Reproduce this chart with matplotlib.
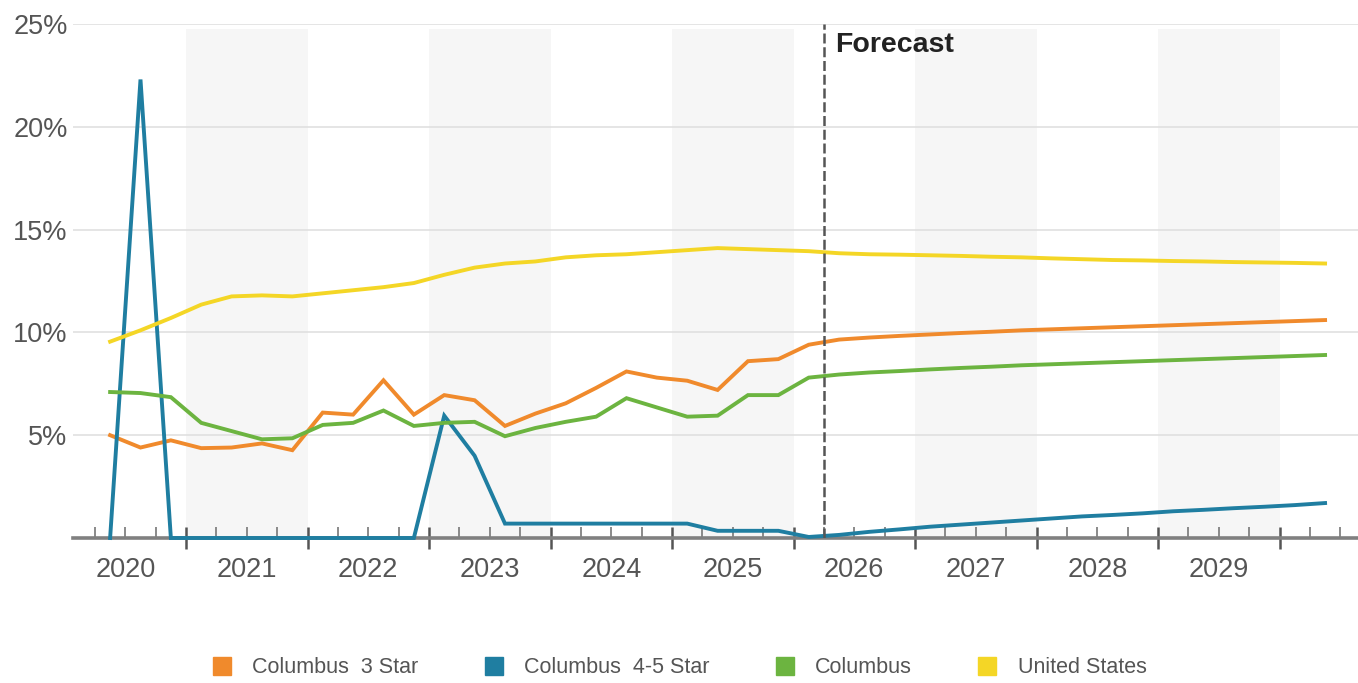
import numpy as np
import matplotlib.pyplot as plt
from matplotlib.lines import Line2D
from matplotlib.transforms import blended_transform_factory

plt.rcParams['font.family'] = ['Liberation Sans', 'DejaVu Sans']

# quarterly points, mid-quarter from 2020 Q2 to 2030 Q2
quarters = np.arange(41) * 0.25 + 2020.375
forecast_start = 2026.25

years = [2020, 2021, 2022, 2023, 2024, 2025, 2026, 2027, 2028, 2029]
shaded_years = [2021, 2023, 2025, 2027, 2029]

col_3star = [5.0, 4.4, 4.75, 4.37, 4.4, 4.6, 4.27, 6.1, 6.0, 7.67,
             6.0, 6.95, 6.7, 5.45, 6.05, 6.55, 7.3, 8.1, 7.8, 7.65,
             7.2, 8.6, 8.7, 9.4, 9.65, 9.75, 9.83, 9.9, 9.97, 10.03,
             10.1, 10.15, 10.2, 10.25, 10.3, 10.35, 10.4, 10.45, 10.5, 10.55,
             10.6]
col_45star = [0.0, 22.3, 0.0, 0.0, 0.0, 0.0, 0.0, 0.0, 0.0, 0.0,
              0.0, 5.95, 4.0, 0.7, 0.7, 0.7, 0.7, 0.7, 0.7, 0.7,
              0.35, 0.35, 0.35, 0.05, 0.15, 0.3, 0.42, 0.55, 0.65, 0.75,
              0.85, 0.95, 1.05, 1.12, 1.2, 1.3, 1.37, 1.45, 1.52, 1.6,
              1.7]
columbus = [7.1, 7.05, 6.85, 5.6, 5.2, 4.8, 4.85, 5.5, 5.6, 6.2,
            5.45, 5.6, 5.65, 4.95, 5.35, 5.65, 5.9, 6.8, 6.35, 5.9,
            5.95, 6.95, 6.95, 7.8, 7.95, 8.05, 8.12, 8.2, 8.27, 8.33,
            8.4, 8.45, 8.5, 8.55, 8.6, 8.65, 8.7, 8.75, 8.8, 8.85,
            8.9]
united_states = [9.55, 10.1, 10.7, 11.35, 11.75, 11.8, 11.75, 11.9, 12.05, 12.2,
                 12.4, 12.8, 13.15, 13.35, 13.45, 13.65, 13.75, 13.8, 13.9, 14.0,
                 14.1, 14.05, 14.0, 13.95, 13.85, 13.8, 13.78, 13.75, 13.72, 13.68,
                 13.65, 13.6, 13.56, 13.52, 13.5, 13.47, 13.45, 13.42, 13.4, 13.38,
                 13.35]

series = [
    ("Columbus  3 Star", col_3star, "#f08a2c"),
    ("Columbus  4-5 Star", col_45star, "#1f7ea1"),
    ("Columbus", columbus, "#6cb440"),
    ("United States", united_states, "#f4d626"),
]

fig = plt.figure(figsize=(13.58, 6.83), dpi=100)
ax = fig.add_axes([0.0538, 0.2123, 0.9462, 0.7526])

ax.set_xlim(2020.07, 2030.646)
ax.set_ylim(0, 25)

for y in shaded_years:
    ax.axvspan(y, y + 1, ymax=0.99, color="#f6f6f6", zorder=0, lw=0)

ax.set_yticks([5, 10, 15, 20, 25])
ax.set_yticklabels(["5%", "10%", "15%", "20%", "25%"])
ax.yaxis.grid(True, color="#e0e0e0", lw=1.2, zorder=1)
ax.tick_params(axis="y", length=0, pad=4, labelsize=19.5, labelcolor="#555555")

for name, vals, color in series:
    ax.plot(quarters, vals, color=color, lw=2.8, zorder=3, clip_on=False,
            solid_joinstyle="miter")

ax.axvline(forecast_start, color="#555555", lw=1.8, ls=(0, (4, 1.5)), zorder=4)
ax.text(forecast_start + 0.09, 24.0, "Forecast", fontsize=20.5, fontweight="bold",
        color="#222222", ha="left", va="center")

for s in ["top", "right", "left"]:
    ax.spines[s].set_visible(False)
ax.spines["bottom"].set_color("#808080")
ax.spines["bottom"].set_linewidth(2.6)

ax.set_xticks(np.arange(2021, 2031))
ax.set_xticks(np.arange(2020.25, 2030.6, 0.25), minor=True)
ax.tick_params(axis="x", which="major", direction="inout", length=16, width=1.8,
               color="#555555", labelbottom=False)
ax.tick_params(axis="x", which="minor", direction="in", length=8, width=1.2,
               color="#777777")

trans = blended_transform_factory(ax.transData, ax.transAxes)
for y in years:
    ax.text(y + 0.5, -0.062, str(y), transform=trans, ha="center", va="center",
            fontsize=19.5, color="#555555")

handles = [Line2D([], [], marker="s", ls="none", markersize=13, color=c)
           for _, _, c in series]
fig.legend(handles, [n for n, _, _ in series], loc="center", bbox_to_anchor=(0.5, 0.022),
           ncol=4, frameon=False, fontsize=15.5, labelcolor="#555555",
           handletextpad=0.9, columnspacing=3.0, handlelength=1.0)

fig.savefig("out.png", dpi=100)
